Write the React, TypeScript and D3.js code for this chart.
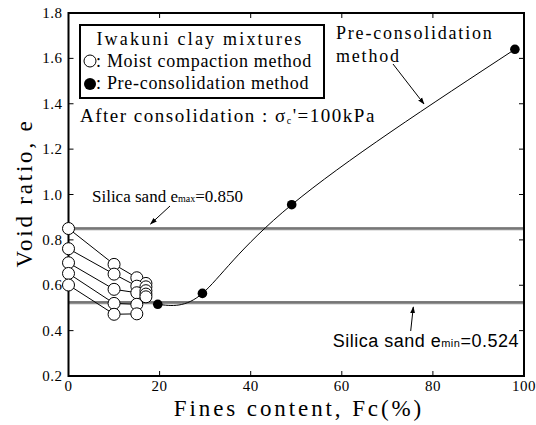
import React from "react";
import * as d3 from "d3";

const moistFc = [0, 10, 15, 17];
const moistSeries = [
  [0.85, 0.692, 0.633, 0.608],
  [0.761, 0.649, 0.596, 0.593],
  [0.699, 0.582, 0.567, 0.576],
  [0.652, 0.52, 0.516, 0.561],
  [0.601, 0.472, 0.474, 0.549],
];
const preFc = [19.6, 29.4, 49, 98];
const preE = [0.516, 0.564, 0.955, 1.64];
const xTicks = [0, 20, 40, 60, 80, 100];
const yTicks = [0.2, 0.4, 0.6, 0.8, 1.0, 1.2, 1.4, 1.6, 1.8];
const eMax = 0.85;
const eMin = 0.524;

const W = 536;
const H = 425;
const L = 68.5, R = 524, T = 13, B = 376;

export default function App() {
  const x = d3.scaleLinear().domain([0, 100]).range([L, R]);
  const y = d3.scaleLinear().domain([0.2, 1.8]).range([B, T]);
  const line = d3.line<[number, number]>().x((d) => x(d[0])).y((d) => y(d[1]));
  const curve = d3
    .line<[number, number]>()
    .x((d) => x(d[0]))
    .y((d) => y(d[1]))
    .curve(d3.curveNatural);
  const serif = '"Liberation Serif", serif';
  const sans = '"Liberation Sans", sans-serif';
  const tickLen = 5;
  return (
    <svg width={W} height={H} style={{ position: "absolute", left: 0, top: 0, background: "#fff" }}>
      <defs>
        <marker id="ah" viewBox="0 0 10 10" refX="9" refY="5" markerWidth="7" markerHeight="7" orient="auto-start-reverse">
          <path d="M0,1.5 L10,5 L0,8.5 Z" fill="#000" />
        </marker>
      </defs>
      {[eMax, eMin].map((v, i) => (
        <g key={i}>
          <line x1={L} x2={R} y1={y(v) - 0.5} y2={y(v) - 0.5} stroke="#000" strokeWidth={1} />
          <line x1={L} x2={R} y1={y(v) + 1} y2={y(v) + 1} stroke="#222" strokeWidth={1.3} strokeDasharray="1,1" />
        </g>
      ))}
      {xTicks.slice(1, -1).map((t) => (
        <g key={"xt" + t}>
          <line x1={x(t)} x2={x(t)} y1={B} y2={B - tickLen} stroke="#000" strokeWidth={1} />
          <line x1={x(t)} x2={x(t)} y1={T} y2={T + tickLen} stroke="#000" strokeWidth={1} />
        </g>
      ))}
      {yTicks.slice(1, -1).map((t) => (
        <g key={"yt" + t}>
          <line x1={L} x2={L + tickLen} y1={y(t)} y2={y(t)} stroke="#000" strokeWidth={1} />
          <line x1={R} x2={R - tickLen} y1={y(t)} y2={y(t)} stroke="#000" strokeWidth={1} />
        </g>
      ))}
      <rect x={L} y={T} width={R - L} height={B - T} fill="none" stroke="#000" strokeWidth={2} />
      {xTicks.map((t) => (
        <text key={"xl" + t} x={x(t)} y={B + 15} textAnchor="middle" style={{ fontFamily: serif }} fontSize={15} letterSpacing={0.5}>
          {t}
        </text>
      ))}
      {yTicks.map((t) => (
        <text key={"yl" + t} x={L - 6} y={y(t) + 5} textAnchor="end" style={{ fontFamily: serif }} fontSize={15} letterSpacing={0.5}>
          {t.toFixed(1)}
        </text>
      ))}
      <text x={299} y={416} textAnchor="middle" style={{ fontFamily: serif }} fontSize={23} letterSpacing={2.9}>
        Fines content, Fc(%)
      </text>
      <text transform={`translate(32,${193}) rotate(-90)`} textAnchor="middle" style={{ fontFamily: serif }} fontSize={23} letterSpacing={2.8}>
        Void ratio, e
      </text>
      {moistSeries.map((s, i) => (
        <path key={"ml" + i} d={line(moistFc.map((f, j) => [f, s[j]]) as [number, number][]) || ""} fill="none" stroke="#000" strokeWidth={1} />
      ))}
      <path d={curve(preFc.map((f, j) => [f, preE[j]]) as [number, number][]) || ""} fill="none" stroke="#000" strokeWidth={1} />
      {moistSeries.map((s, i) =>
        moistFc.map((f, j) => (
          <circle key={"mc" + i + "-" + j} cx={x(f)} cy={y(s[j])} r={6} fill="#fff" stroke="#000" strokeWidth={1} />
        ))
      )}
      {preFc.map((f, j) => (
        <circle key={"pc" + j} cx={x(f)} cy={y(preE[j])} r={4.8} fill="#000" />
      ))}
      <rect x={80} y={25} width={244} height={73} fill="#fff" stroke="#000" strokeWidth={2} />
      <text x={200} y={45} textAnchor="middle" style={{ fontFamily: serif }} fontSize={18} letterSpacing={2.2}>
        Iwakuni clay mixtures
      </text>
      <circle cx={90} cy={61} r={6} fill="#fff" stroke="#000" strokeWidth={1} />
      <text x={96} y={67} style={{ fontFamily: serif }} fontSize={18} letterSpacing={0.7}>
        : Moist compaction method
      </text>
      <circle cx={90} cy={84} r={6} fill="#000" />
      <text x={96} y={89} style={{ fontFamily: serif }} fontSize={18} letterSpacing={0.7}>
        : Pre-consolidation method
      </text>
      <text x={80} y={122} style={{ fontFamily: serif }} fontSize={19} letterSpacing={1.5}>
        After consolidation : σ<tspan fontSize={10} dy={2}>c</tspan><tspan dy={-2}>'=100kPa</tspan>
      </text>
      <text x={336} y={39} style={{ fontFamily: serif }} fontSize={18} letterSpacing={1.8}>
        Pre-consolidation
      </text>
      <text x={336} y={62} style={{ fontFamily: serif }} fontSize={18} letterSpacing={1.8}>
        method
      </text>
      <line x1={393} y1={64} x2={424} y2={104} stroke="#000" strokeWidth={1} markerEnd="url(#ah)" />
      <text x={92} y={202} style={{ fontFamily: serif }} fontSize={17}>
        Silica sand e<tspan fontSize={10}>max</tspan>=0.850
      </text>
      <line x1={170} y1={206} x2={150.5} y2={224} stroke="#000" strokeWidth={1} markerEnd="url(#ah)" />
      <text x={519} y={347} textAnchor="end" style={{ fontFamily: sans }} fontSize={18} letterSpacing={0.5}>
        Silica sand e<tspan fontSize={11}>min</tspan>=0.524
      </text>
      <line x1={410.7} y1={331} x2={413.3} y2={307} stroke="#000" strokeWidth={1} markerEnd="url(#ah)" />
    </svg>
  );
}
